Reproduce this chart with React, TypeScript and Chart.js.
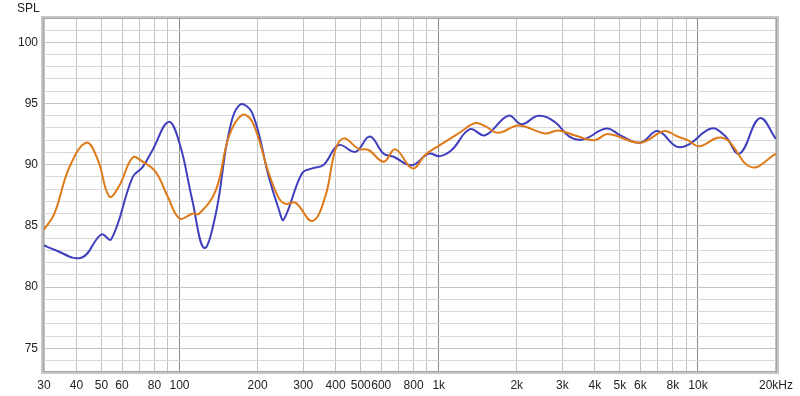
import React, { useEffect, useRef } from "react";
import { Chart, registerables } from "chart.js";

Chart.register(...registerables);

const blueFreqs = [30, 32.5, 41.8, 49.9, 54.5, 66, 72, 78.7, 90.7, 100, 112, 124.4, 138, 155, 171, 191, 221, 242, 252, 297, 325, 360, 411, 477, 542, 613, 670, 788, 912, 1010, 1122, 1318, 1508, 1855, 2088, 2420, 2800, 3190, 3600, 4435, 5060, 6000, 6990, 8228, 9123, 11240, 12660, 14470, 17300, 20000];
const blueSPL = [83.4, 83.1, 82.4, 84.3, 83.9, 89.0, 89.8, 91.2, 93.5, 91.75, 87.1, 83.2, 86.0, 92.6, 94.9, 94.2, 89.0, 86.3, 85.5, 89.3, 89.7, 90.0, 91.6, 91.05, 92.3, 90.9, 90.65, 89.95, 90.9, 90.7, 91.2, 92.9, 92.4, 94.0, 93.3, 94.0, 93.5, 92.3, 92.05, 92.95, 92.35, 91.8, 92.75, 91.5, 91.6, 92.95, 92.4, 90.9, 93.8, 92.1];

const orangeFreqs = [30, 32.9, 37.6, 43.7, 48.4, 53.6, 58.6, 66, 72, 81, 90, 100, 112, 119, 138, 155, 174, 191, 221, 242, 257, 280, 325, 365, 399, 430, 490, 536, 613, 680, 793, 886, 1010, 1190, 1384, 1508, 1700, 2030, 2570, 2890, 3340, 3990, 4490, 6000, 7410, 8350, 9123, 10100, 11910, 13030, 16080, 20000];
const orangeSPL = [84.7, 86.0, 89.8, 91.8, 90.4, 87.4, 88.3, 90.6, 90.25, 89.4, 87.4, 85.6, 86.0, 86.0, 87.9, 92.3, 94.05, 93.5, 89.3, 87.25, 86.8, 86.9, 85.4, 87.4, 91.2, 92.15, 91.3, 91.2, 90.25, 91.25, 89.7, 90.8, 91.6, 92.55, 93.4, 93.15, 92.6, 93.2, 92.55, 92.8, 92.4, 92.0, 92.5, 91.8, 92.75, 92.3, 92.0, 91.5, 92.2, 92.0, 89.8, 90.9];

const gridFreqs = [30, 40, 50, 60, 70, 80, 90, 100, 200, 300, 400, 500, 600, 700, 800, 900, 1000, 2000, 3000, 4000, 5000, 6000, 7000, 8000, 9000, 10000, 20000];
const freqLabels: Record<number, string> = {
  30: "30", 40: "40", 50: "50", 60: "60", 80: "80", 100: "100", 200: "200", 300: "300", 400: "400", 500: "500", 600: "600", 800: "800",
  1000: "1k", 2000: "2k", 3000: "3k", 4000: "4k", 5000: "5k", 6000: "6k", 8000: "8k", 10000: "10k", 20000: "20kHz",
};
const splTicks = [74, 75, 76, 77, 78, 79, 80, 81, 82, 83, 84, 85, 86, 87, 88, 89, 90, 91, 92, 93, 94, 95, 96, 97, 98, 99, 100, 101];
const yAxisTitle = "SPL";

const FONT = '"Liberation Sans", Arial, sans-serif';

const framePlugin = {
  id: "frame",
  afterDatasetsDraw(chart: any) {
    const { ctx, chartArea } = chart;
    const { left, top, right, bottom } = chartArea;
    ctx.save();
    ctx.strokeStyle = "#c6c6c6";
    ctx.lineWidth = 3;
    ctx.strokeRect(left - 1.5, top - 1.5, right - left + 3, bottom - top + 3);
    ctx.strokeStyle = "#a4a4a4";
    ctx.lineWidth = 1;
    ctx.strokeRect(left - 0.5, top - 0.5, right - left + 1, bottom - top + 1);
    ctx.fillStyle = "#222";
    ctx.font = `12px ${FONT}`;
    ctx.textBaseline = "middle";
    ctx.textAlign = "left";
    ctx.fillText(yAxisTitle, 17, 9);
    ctx.restore();
  },
};

export default function App() {
  const ref = useRef<HTMLCanvasElement>(null);
  useEffect(() => {
    document.body.style.margin = "0";
    const canvas = ref.current!;
    const chart = new Chart(canvas, {
      type: "line",
      data: {
        datasets: [
          {
            data: orangeFreqs.map((f, i) => ({ x: f, y: orangeSPL[i] })),
            borderColor: "rgb(222,122,24)",
            borderWidth: 2,
            pointRadius: 0,
            tension: 0.4,
            fill: false,
          },
          {
            data: blueFreqs.map((f, i) => ({ x: f, y: blueSPL[i] })),
            borderColor: "rgb(64,64,190)",
            borderWidth: 2,
            pointRadius: 0,
            tension: 0.4,
            fill: false,
          },
        ],
      },
      options: {
        animation: false,
        responsive: false,
        devicePixelRatio: 1,
        layout: { padding: { top: 19, right: 22, left: 0, bottom: 0 } },
        plugins: { legend: { display: false }, tooltip: { enabled: false } },
        scales: {
          x: {
            type: "logarithmic",
            min: 30,
            max: 20000,
            afterBuildTicks: (s: any) => {
              s.ticks = gridFreqs.map((v) => ({ value: v }));
            },
            afterFit: (s: any) => {
              s.height = 25;
            },
            border: { display: false },
            grid: {
              drawTicks: false,
              color: (c: any) => {
                const v = c.tick?.value;
                return v === 100 || v === 1000 || v === 10000 ? "#8a8a8a" : "#c4c4c4";
              },
              lineWidth: 1,
            },
            ticks: {
              autoSkip: false,
              maxRotation: 0,
              padding: 7,
              color: "#222",
              font: { family: FONT, size: 12 },
              callback: (v: any) => freqLabels[Number(v)] ?? "",
            },
          },
          y: {
            type: "linear",
            min: 73.15,
            max: 101.9,
            afterBuildTicks: (s: any) => {
              s.ticks = splTicks.map((v) => ({ value: v }));
            },
            afterFit: (s: any) => {
              s.width = 44;
            },
            border: { display: false },
            grid: {
              drawTicks: false,
              color: (c: any) => (c.tick && c.tick.value % 5 === 0 ? "#c4c4c4" : "#d8d8d8"),
              lineWidth: 1,
            },
            ticks: {
              autoSkip: false,
              padding: 6,
              color: "#222",
              font: { family: FONT, size: 12 },
              callback: (v: any) => (Number(v) % 5 === 0 ? String(v) : ""),
            },
          },
        },
      },
      plugins: [framePlugin],
    });
    return () => chart.destroy();
  }, []);
  return (
    <div style={{ width: 800, height: 396, background: "#fff" }}>
      <canvas ref={ref} width={800} height={396} style={{ display: "block" }} />
    </div>
  );
}
